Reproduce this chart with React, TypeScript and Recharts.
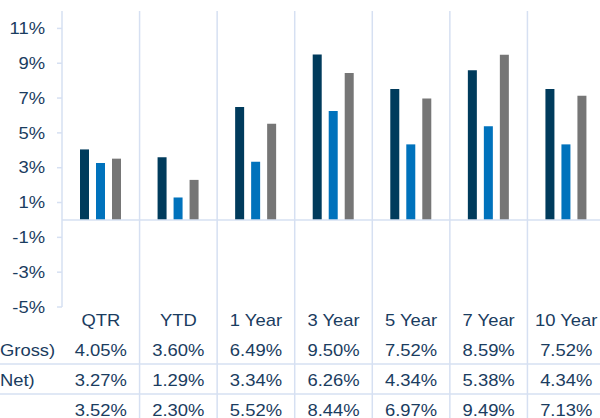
import React from 'react';
import { BarChart, Bar, XAxis, YAxis, ReferenceLine } from 'recharts';

const categories = ['QTR', 'YTD', '1 Year', '3 Year', '5 Year', '7 Year', '10 Year'];
const grossValues = [4.05, 3.6, 6.49, 9.5, 7.52, 8.59, 7.52];
const netValues = [3.27, 1.29, 3.34, 6.26, 4.34, 5.38, 4.34];
const benchmarkValues = [3.52, 2.3, 5.52, 8.44, 6.97, 9.49, 7.13];
const rowLabels = ['Gross)', 'Net)', ''];
const yTicks = [-5, -3, -1, 1, 3, 5, 7, 9, 11];

const data = categories.map((category, i) => ({
  category,
  gross: grossValues[i],
  net: netValues[i],
  benchmark: benchmarkValues[i],
}));

const CHART_W = 620;
const CHART_H = 418;
const MARGIN = { top: 11, right: 15, left: 0, bottom: 0 };
const Y_AXIS_W = 62;
const X_AXIS_H = 111;
const PLOT_W = CHART_W - MARGIN.left - MARGIN.right - Y_AXIS_W;
const PLOT_H = CHART_H - MARGIN.top - MARGIN.bottom - X_AXIS_H;
const BAND = PLOT_W / categories.length;

const TEXT = '#1A3C60';
const GRID = '#D6E0F2';
const FONT = "'Liberation Sans', Arial, sans-serif";
const STRETCH = 1.15;

const fmt = (v: number) => `${v.toFixed(2)}%`;

const SText = ({ x, y, anchor, children, dy }: any) => (
  <text
    transform={`translate(${x},${y}) scale(${STRETCH},1)`}
    x={0}
    y={0}
    dy={dy}
    textAnchor={anchor}
    fill={TEXT}
    fontSize={16}
    fontFamily={FONT}
  >
    {children}
  </text>
);

const YTick = (props: any) => {
  const { x, y, payload } = props;
  return (
    <SText x={x} y={y} anchor="end" dy="0.355em">
      {`${payload.value}%`}
    </SText>
  );
};

const TableTick = (props: any) => {
  const { x, y, payload, index } = props;
  const i = index ?? categories.indexOf(payload.value);
  const rows = [grossValues[i], netValues[i], benchmarkValues[i]];
  const rowOffsets = [49, 79, 109];
  return (
    <g>
      <line x1={x + BAND / 2} x2={x + BAND / 2} y1={y - PLOT_H} y2={CHART_H} stroke={GRID} strokeWidth={1.5} />
      {i === 0 && (
        <g>
          <line x1={0} x2={CHART_W} y1={y + 57} y2={y + 57} stroke={GRID} strokeWidth={1.5} />
          <line x1={0} x2={CHART_W} y1={y + 87} y2={y + 87} stroke={GRID} strokeWidth={1.5} />
          {rowLabels.map((lbl, r) => (
            <SText key={r} x={0} y={y + rowOffsets[r]} anchor="start">
              {lbl}
            </SText>
          ))}
        </g>
      )}
      <SText x={x} y={y + 19} anchor="middle">
        {payload.value}
      </SText>
      {rows.map((v, r) => (
        <SText key={r} x={x} y={y + rowOffsets[r]} anchor="middle">
          {fmt(v)}
        </SText>
      ))}
    </g>
  );
};

export default function App() {
  return (
    <div style={{ position: 'absolute', left: 0, top: 0, width: 600, height: 418, overflow: 'hidden', background: '#fff' }}>
      <BarChart width={CHART_W} height={CHART_H} data={data} margin={MARGIN} barGap={7}>
        <XAxis
          dataKey="category"
          axisLine={false}
          tickLine={false}
          tickSize={0}
          tickMargin={0}
          height={X_AXIS_H}
          interval={0}
          tick={<TableTick />}
        />
        <YAxis
          width={Y_AXIS_W}
          domain={[-5, 12]}
          ticks={yTicks}
          allowDataOverflow
          axisLine={{ stroke: GRID, strokeWidth: 1.5 }}
          tickLine={{ stroke: GRID, strokeWidth: 1.5 }}
          tickSize={5}
          tickMargin={12}
          tick={<YTick />}
        />
        <ReferenceLine y={0} stroke={GRID} strokeWidth={1.5} />
        <Bar dataKey="gross" fill="#003B5C" barSize={9} isAnimationActive={false} />
        <Bar dataKey="net" fill="#0072BC" barSize={9} isAnimationActive={false} />
        <Bar dataKey="benchmark" fill="#767676" barSize={9} isAnimationActive={false} />
      </BarChart>
    </div>
  );
}
